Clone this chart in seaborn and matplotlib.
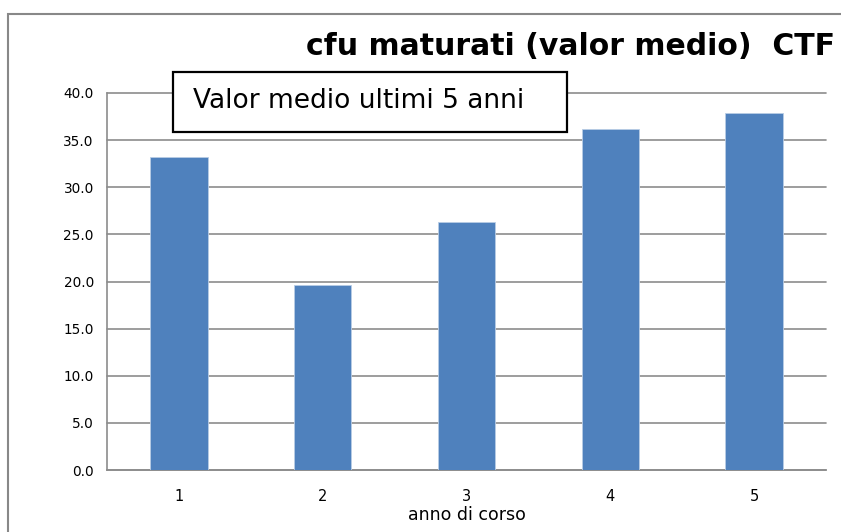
"""
plot.py

Average CFU earned per year of course (CTF), bar chart.
"""

import pandas as pd
import seaborn as sns
import matplotlib.pyplot as plt
from matplotlib.patches import Rectangle


YEARS = ["1", "2", "3", "4", "5"]
CFU_MEAN = [33.2, 19.6, 26.3, 36.2, 37.9]
Y_TICKS = [0, 5, 10, 15, 20, 25, 30, 35, 40]

TITLE = "cfu maturati (valor medio)  CTF"
NOTE = "Valor medio ultimi 5 anni"
XLABEL = "anno di corso"

BAR_COLOR = "#4f81bd"
GRID_COLOR = "#8c8c8c"


def main():
    sns.set_style("white")
    plt.rcParams["font.family"] = ["DejaVu Sans"]
    plt.rcParams["text.color"] = "black"
    plt.rcParams["axes.labelcolor"] = "black"

    df = pd.DataFrame({"anno": YEARS, "cfu": CFU_MEAN})

    fig = plt.figure(figsize=(8.41, 5.32), dpi=100)
    ax = fig.add_axes([107 / 841, 62 / 532, 719 / 841, 377 / 532])

    sns.barplot(data=df, x="anno", y="cfu", color=BAR_COLOR, width=0.4,
                saturation=1, edgecolor="#b9cde5", linewidth=0.6, ax=ax,
                zorder=3)

    ax.set_ylim(0, 40)
    ax.set_xlim(-0.5, 4.5)
    ax.set_yticks(Y_TICKS)
    ax.set_yticklabels([f"{v:.1f}" for v in Y_TICKS], fontsize=9.8)
    ax.yaxis.grid(True, color=GRID_COLOR, linewidth=1.2, zorder=0)
    ax.set_axisbelow(True)
    # keep the top gridline (at 40) at full width
    for line in ax.get_ygridlines():
        line.set_clip_on(False)

    # category boundary ticks on x, major ticks on y pointing outward
    ax.set_xticks([-0.5, 0.5, 1.5, 2.5, 3.5, 4.5], minor=True)
    ax.tick_params(axis="x", which="minor", length=6, color=GRID_COLOR,
                   direction="out", width=1)
    ax.tick_params(axis="x", which="major", length=0, labelsize=10.5,
                   pad=14, labelcolor="black")
    ax.tick_params(axis="y", length=8.5, color=GRID_COLOR, width=1,
                   direction="out", pad=1, labelcolor="black")

    for side in ["top", "right"]:
        ax.spines[side].set_visible(False)
    for side in ["left", "bottom"]:
        ax.spines[side].set_color(GRID_COLOR)
        ax.spines[side].set_linewidth(1.2)

    ax.set_xlabel(XLABEL, fontsize=12.5, labelpad=1)
    ax.set_ylabel("")

    fig.text(0.993, 0.913, TITLE, ha="right", va="center", fontsize=21.5,
             fontweight="bold")

    # note box
    fig.patches.append(Rectangle((173 / 841, 1 - 132 / 532), 394 / 841,
                                 60 / 532, transform=fig.transFigure,
                                 facecolor="white", edgecolor="black",
                                 linewidth=1.6, zorder=5))
    fig.text(193 / 841, 1 - 101 / 532, NOTE, ha="left", va="center",
             fontsize=19, zorder=6)

    # chart-area border
    fig.patches.append(Rectangle((8 / 841, -0.05), 1.0, 1 - 14 / 532 + 0.05,
                                 transform=fig.transFigure, fill=False,
                                 edgecolor="#888888", linewidth=1.5))

    fig.savefig("out.png", dpi=100)


if __name__ == "__main__":
    main()
